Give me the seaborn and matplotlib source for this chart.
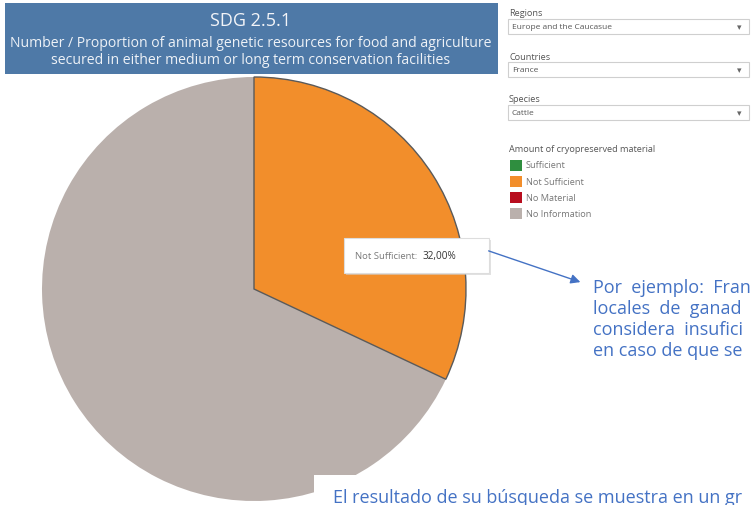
import matplotlib
matplotlib.use("Agg")
from matplotlib import pyplot as plt
from matplotlib.patches import Rectangle, FancyArrowPatch
import seaborn as sns

W, H = 751, 506

# data
slice_labels = ["Not Sufficient", "No Information"]
slice_values = [32.0, 68.0]
legend_labels = ["Sufficient", "Not Sufficient", "No Material", "No Information"]
legend_colors = ["#2f8e3f", "#f28e2b", "#b80d1e", "#bab0ac"]
filter_names = ["Regions", "Countries", "Species"]
filter_values = ["Europe and the Caucasue", "France", "Cattle"]
title = "SDG 2.5.1"
subtitle = ["Number / Proportion of animal genetic resources for food and agriculture",
            "secured in either medium or long term conservation facilities"]
# visible part of the annotation, as cut by the right edge of the screenshot
note_lines = ["Por  ejemplo:  Fran", "locales  de  ganad",
              "considera  insufici", "en caso de que se"]
bottom_note = "El resultado de su búsqueda se muestra en un gr"

sns.set_theme(style="white")
plt.rcParams['font.family'] = ['Open Sans', 'DejaVu Sans']


def fx(x):
    return x / W


def fy(y):
    return 1 - y / H


def rect(fig, x0, y0, x1, y1, **kw):
    r = Rectangle((fx(x0), fy(y1)), (x1 - x0) / W, (y1 - y0) / H,
                  transform=fig.transFigure, **kw)
    fig.add_artist(r)
    return r


fig = plt.figure(figsize=(W / 100, H / 100), dpi=100)

# pie
cx, cy, r = 254, 290, 212
ax = fig.add_axes([fx(cx - r), fy(cy + r), 2 * r / W, 2 * r / H])
color_map = dict(zip(legend_labels, legend_colors))
wedges, _ = ax.pie(slice_values, colors=[color_map[s] for s in slice_labels],
                   startangle=90, counterclock=False, radius=1)
wedges[0].set_edgecolor("#5a5a5a")
wedges[0].set_linewidth(1.0)
wedges[0].set_zorder(3)
wedges[1].set_linewidth(0)
ax.set_xlim(-1, 1)
ax.set_ylim(-1, 1)
ax.set_axis_off()

# title band
rect(fig, 5, 4, 498, 75, facecolor="#4e79a7", edgecolor="none")
fig.text(fx(251), fy(21), title, ha="center", va="center", color="#f2f4f8",
         fontsize=13)
for i, line in enumerate(subtitle):
    fig.text(fx(251), fy(44 + i * 17), line, ha="center", va="center",
             color="#eef2f7", fontsize=10.1)

# filters
for i, (name, val) in enumerate(zip(filter_names, filter_values)):
    top = 14 + i * 43
    fig.text(fx(509), fy(top), name, ha="left", va="center", color="#555555",
             fontsize=6.6)
    rect(fig, 508, top + 6, 749, top + 21, facecolor="white", edgecolor="#cfcfcf",
         linewidth=0.8)
    fig.text(fx(512), fy(top + 13.5), val, ha="left", va="center",
             color="#555555", fontsize=6.0)
    fig.text(fx(739), fy(top + 13.5), "▾", ha="center", va="center",
             color="#666666", fontsize=6.5, family="DejaVu Sans")

# legend
fig.text(fx(509), fy(150), "Amount of cryopreserved material", ha="left",
         va="center", color="#555555", fontsize=6.6)
for i, (lab, col) in enumerate(zip(legend_labels, legend_colors)):
    yc = 166 + i * 16.3
    rect(fig, 510, yc - 5.5, 522, yc + 5.5, facecolor=col, edgecolor="none")
    fig.text(fx(526), fy(yc), lab, ha="left", va="center", color="#777777",
             fontsize=6.6)

# tooltip
rect(fig, 346, 241, 491, 276, facecolor="#d0d0d0", edgecolor="none", alpha=0.6)
rect(fig, 344, 239, 489, 274, facecolor="white", edgecolor="#dddddd",
     linewidth=0.8)
t = fig.text(fx(355), fy(256.5), slice_labels[0] + ": ", ha="left",
             va="center", color="#7a7a7a", fontsize=6.8)
fig.canvas.draw()
bb = t.get_window_extent()
fig.text(bb.x1 / W + 0.003, fy(256.5),
         "{:.2f}%".format(slice_values[0]).replace(".", ","),
         ha="left", va="center", color="#333333", fontsize=7.2)

# arrow
arrow = FancyArrowPatch((fx(486), fy(251)), (fx(583), fy(284)),
                        transform=fig.transFigure, arrowstyle="-|>",
                        mutation_scale=14, color="#4472c4", linewidth=1.0)
fig.add_artist(arrow)

# spanish note
for i, line in enumerate(note_lines):
    fig.text(fx(593), fy(288 + i * 21), line, ha="left", va="center",
             color="#4472c4", fontsize=13)

# white box covering the pie bottom
rect(fig, 314, 476, 751, 506, facecolor="white", edgecolor="none", zorder=5)
fig.text(fx(333), fy(498), bottom_note, ha="left", va="center",
         color="#4472c4", fontsize=13, zorder=6)

fig.savefig("out.png", dpi=100)
